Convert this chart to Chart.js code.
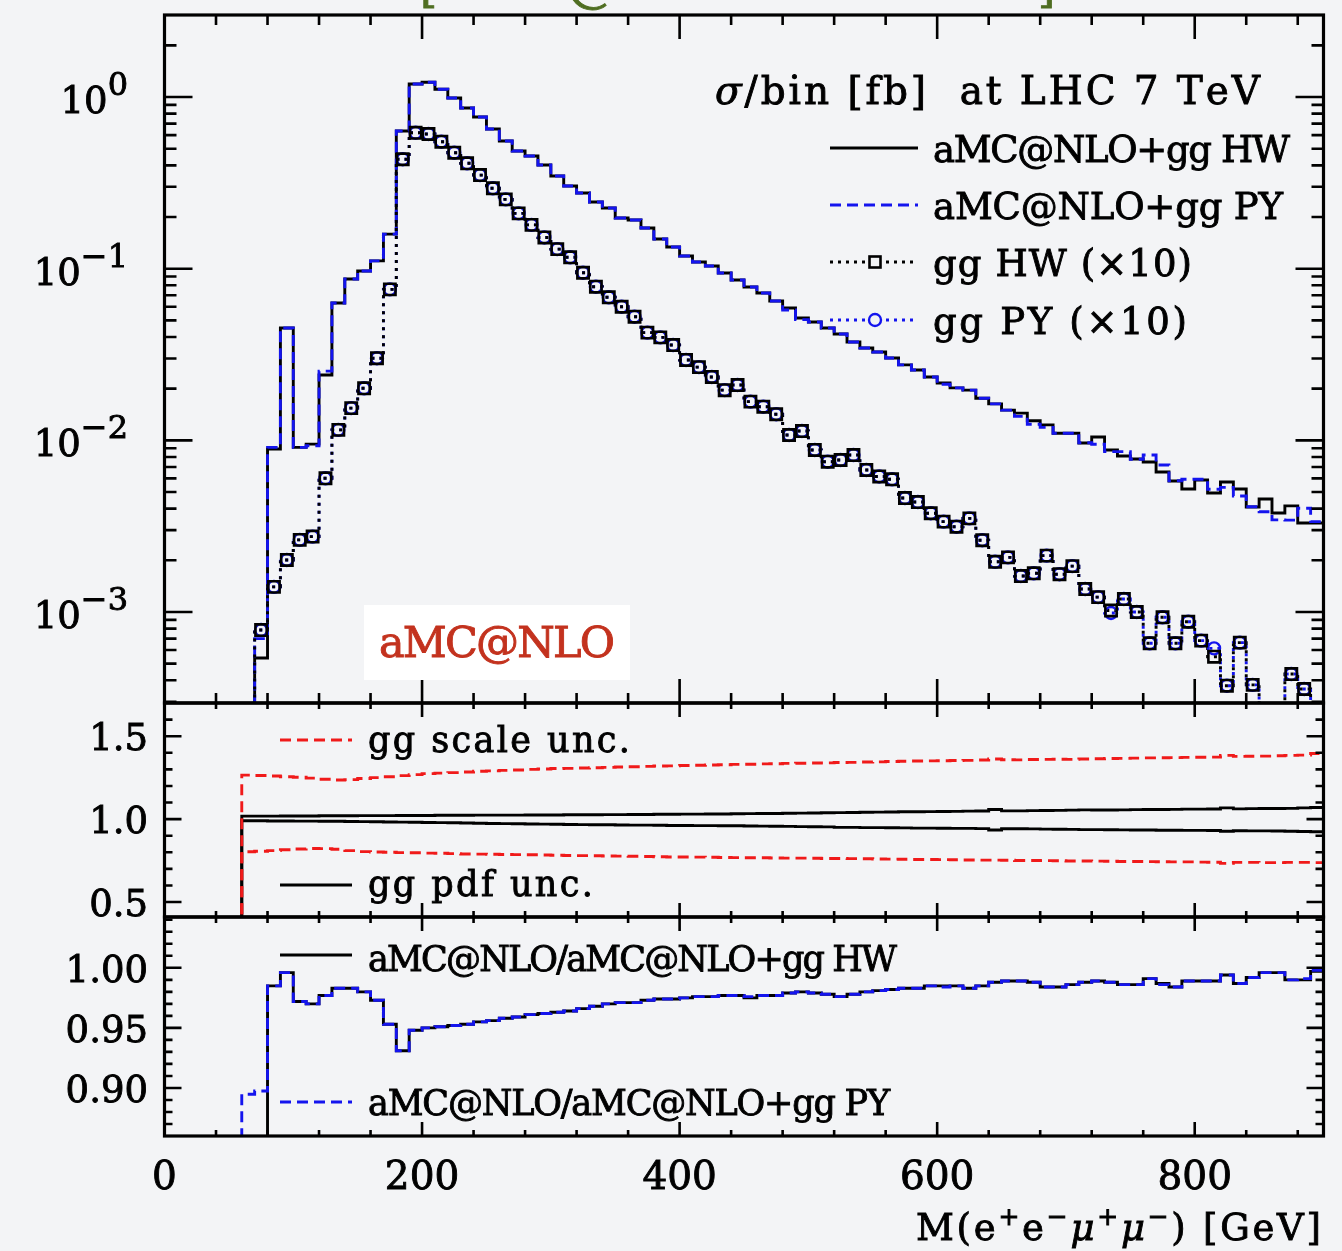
<!DOCTYPE html>
<html>
<head>
<meta charset="utf-8">
<script src="https://cdn.jsdelivr.net/npm/chart.js@4.4.1/dist/chart.umd.min.js"></script>
<style>
  html, body { margin: 0; padding: 0; background: #f3f4f6; }
  #wrap { position: relative; width: 1342px; height: 1251px; overflow: hidden; }
  canvas { position: absolute; left: 0; top: 0; }
</style>
</head>
<body>
<div id="wrap">
  <canvas id="topPanel" width="1342" height="1251"></canvas>
  <canvas id="midPanel" width="1342" height="1251"></canvas>
  <canvas id="botPanel" width="1342" height="1251"></canvas>
</div>
<script>
// --- bins: left edges in GeV (10 GeV wide), last edge closes the histogram ---
const binEdges = [
  50, 60, 70, 80, 90, 100, 110, 120, 130, 140,
  150, 160, 170, 180, 190, 200, 210, 220, 230, 240,
  250, 260, 270, 280, 290, 300, 310, 320, 330, 340,
  350, 360, 370, 380, 390, 400, 410, 420, 430, 440,
  450, 460, 470, 480, 490, 500, 510, 520, 530, 540,
  550, 560, 570, 580, 590, 600, 610, 620, 630, 640,
  650, 660, 670, 680, 690, 700, 710, 720, 730, 740,
  750, 760, 770, 780, 790, 800, 810, 820, 830, 840,
  850, 860, 870, 880, 890
];
const lastEdge = 900;
const binWidth = 10;

// sigma/bin [fb], aMC@NLO+gg with HERWIG
const sigmaHW = [
  1e-4, 1e-4, 5.4e-4, 8.9e-3, 0.0451, 9.1e-3, 9.5e-3, 0.0240, 0.0631, 0.0871,
  0.0969, 0.111, 0.159, 0.634, 1.19, 1.22, 1.11, 0.987, 0.863, 0.765,
  0.651, 0.554, 0.485, 0.453, 0.402, 0.347, 0.303, 0.276, 0.2445, 0.2256,
  0.1973, 0.1921, 0.1725, 0.1489, 0.1337, 0.1185, 0.1093, 0.1036, 0.0944, 0.0859,
  0.0782, 0.0722, 0.0648, 0.0590, 0.0516, 0.0489, 0.0451, 0.0416, 0.0374, 0.0345,
  0.0327, 0.0302, 0.0275, 0.0257, 0.0234, 0.0216, 0.0202, 0.0196, 0.0176, 0.0163,
  0.0150, 0.0144, 0.0130, 0.0123, 0.0110, 0.0110, 0.00965, 0.01046, 0.00879, 0.00811,
  0.00779, 0.00748, 0.00654, 0.00579, 0.00521, 0.00587, 0.00493, 0.00572, 0.00521, 0.00409,
  0.00455, 0.00377, 0.00415, 0.00330, 0.00330
];
// aMC@NLO+gg with PYTHIA
const sigmaPY = [
  1e-4, 1e-4, 7.0e-4, 9.1e-3, 0.0451, 9.1e-3, 9.3e-3, 0.0253, 0.0631, 0.0871,
  0.0969, 0.111, 0.159, 0.634, 1.19, 1.22, 1.11, 0.987, 0.863, 0.765,
  0.651, 0.554, 0.485, 0.453, 0.402, 0.347, 0.303, 0.276, 0.2445, 0.2256,
  0.1973, 0.1921, 0.1725, 0.1489, 0.1337, 0.1185, 0.1093, 0.1036, 0.0944, 0.0859,
  0.0782, 0.0722, 0.0648, 0.0575, 0.0505, 0.0489, 0.0451, 0.0416, 0.0374, 0.0345,
  0.0327, 0.0302, 0.0275, 0.0257, 0.0234, 0.0212, 0.0202, 0.0196, 0.0176, 0.0163,
  0.0150, 0.0138, 0.0124, 0.0119, 0.0110, 0.0110, 0.00969, 0.00948, 0.00859, 0.00859,
  0.00776, 0.00821, 0.00718, 0.00582, 0.00593, 0.00593, 0.00519, 0.00532, 0.00474, 0.00410,
  0.00384, 0.00344, 0.00343, 0.00402, 0.00336
];
// gg only (x10), HERWIG
const ggHW = [
  1e-4, 1e-4, 7.85e-4, 1.40e-3, 2.01e-3, 2.63e-3, 2.75e-3, 6.01e-3, 0.0115, 0.0154,
  0.0201, 0.0301, 0.0758, 0.434, 0.619, 0.609, 0.549, 0.474, 0.411, 0.351,
  0.294, 0.2535, 0.210, 0.180, 0.152, 0.130, 0.1165, 0.0947, 0.0785, 0.0681,
  0.0600, 0.0525, 0.0424, 0.0398, 0.0359, 0.0294, 0.0267, 0.0234, 0.0196, 0.0210,
  0.0168, 0.0157, 0.0142, 0.01074, 0.01133, 0.00879, 0.00751, 0.00768, 0.00821, 0.00672,
  0.00616, 0.00593, 0.00461, 0.00437, 0.00376, 0.00336, 0.00314, 0.00351, 0.00262, 0.00196,
  0.00208, 0.00162, 0.00168, 0.00213, 0.00166, 0.00185, 0.00136, 0.00122, 0.00102, 0.00119,
  0.00100, 6.57e-4, 9.31e-4, 6.57e-4, 8.78e-4, 6.81e-4, 5.49e-4, 3.72e-4, 6.63e-4, 3.76e-4,
  2.2e-4, 2.0e-4, 4.35e-4, 3.56e-4, 2.2e-4
];
// gg only (x10), PYTHIA
const ggPY = [
  1e-4, 1e-4, 7.85e-4, 1.40e-3, 2.01e-3, 2.63e-3, 2.75e-3, 6.01e-3, 0.0115, 0.0154,
  0.0201, 0.0301, 0.0758, 0.434, 0.619, 0.609, 0.549, 0.474, 0.411, 0.351,
  0.294, 0.2535, 0.210, 0.180, 0.152, 0.130, 0.1165, 0.0947, 0.0785, 0.0681,
  0.0600, 0.0525, 0.0424, 0.0398, 0.0359, 0.0294, 0.0267, 0.0234, 0.0196, 0.0210,
  0.0168, 0.0157, 0.0142, 0.01074, 0.01133, 0.00879, 0.00751, 0.00768, 0.00821, 0.00672,
  0.00616, 0.00593, 0.00461, 0.00437, 0.00376, 0.00336, 0.00314, 0.00351, 0.00262, 0.00196,
  0.00208, 0.00162, 0.00168, 0.00213, 0.00166, 0.00185, 0.00136, 0.00122, 9.87e-4, 0.00119,
  0.00100, 6.57e-4, 9.31e-4, 6.57e-4, 8.78e-4, 6.81e-4, 6.14e-4, 3.72e-4, 6.63e-4, 3.76e-4,
  2.2e-4, 2.0e-4, 4.35e-4, 3.56e-4, 2.2e-4
];

// middle panel: gg scale / pdf uncertainty bands (ratio)
const scaleUp = [
  0.3, 1.265, 1.263, 1.260, 1.255, 1.252, 1.247, 1.240, 1.236, 1.238,
  1.245, 1.250, 1.255, 1.262, 1.268, 1.274, 1.277, 1.280, 1.284, 1.289,
  1.291, 1.294, 1.296, 1.300, 1.302, 1.305, 1.306, 1.308, 1.310, 1.312,
  1.314, 1.316, 1.318, 1.320, 1.321, 1.323, 1.325, 1.326, 1.328, 1.330,
  1.331, 1.333, 1.334, 1.336, 1.337, 1.338, 1.339, 1.341, 1.342, 1.344,
  1.345, 1.347, 1.349, 1.350, 1.351, 1.352, 1.353, 1.354, 1.356, 1.362,
  1.358, 1.357, 1.359, 1.360, 1.361, 1.360, 1.362, 1.364, 1.365, 1.366,
  1.368, 1.369, 1.370, 1.371, 1.372, 1.373, 1.374, 1.384, 1.378, 1.379,
  1.380, 1.382, 1.384, 1.386, 1.396
];
const scaleDown = [
  0.3, 0.803, 0.806, 0.810, 0.815, 0.820, 0.823, 0.822, 0.818, 0.810,
  0.804, 0.802, 0.800, 0.798, 0.797, 0.795, 0.794, 0.792, 0.790, 0.789,
  0.788, 0.787, 0.786, 0.785, 0.784, 0.782, 0.781, 0.780, 0.779, 0.778,
  0.777, 0.776, 0.775, 0.773, 0.772, 0.772, 0.771, 0.770, 0.769, 0.768,
  0.767, 0.767, 0.766, 0.765, 0.765, 0.764, 0.763, 0.763, 0.762, 0.761,
  0.760, 0.759, 0.758, 0.757, 0.757, 0.756, 0.755, 0.754, 0.753, 0.753,
  0.752, 0.751, 0.751, 0.750, 0.749, 0.748, 0.748, 0.747, 0.746, 0.745,
  0.745, 0.744, 0.743, 0.742, 0.742, 0.741, 0.740, 0.733, 0.739, 0.739,
  0.738, 0.738, 0.739, 0.739, 0.738
];
const pdfUp = [
  0.3, 1.018, 1.018, 1.018, 1.019, 1.019, 1.019, 1.020, 1.020, 1.020,
  1.021, 1.021, 1.021, 1.022, 1.022, 1.022, 1.023, 1.023, 1.023, 1.024,
  1.024, 1.024, 1.024, 1.025, 1.025, 1.025, 1.026, 1.026, 1.026, 1.027,
  1.027, 1.028, 1.028, 1.029, 1.029, 1.030, 1.030, 1.031, 1.031, 1.032,
  1.033, 1.034, 1.034, 1.035, 1.036, 1.037, 1.038, 1.039, 1.040, 1.041,
  1.042, 1.043, 1.044, 1.044, 1.045, 1.046, 1.047, 1.048, 1.049, 1.058,
  1.050, 1.050, 1.051, 1.052, 1.053, 1.054, 1.056, 1.055, 1.055, 1.056,
  1.057, 1.058, 1.058, 1.059, 1.060, 1.060, 1.061, 1.068, 1.062, 1.063,
  1.064, 1.064, 1.065, 1.068, 1.070
];
const pdfDown = [
  0.3, 0.990, 0.990, 0.989, 0.989, 0.988, 0.988, 0.987, 0.987, 0.986,
  0.985, 0.984, 0.983, 0.982, 0.981, 0.980, 0.979, 0.978, 0.977, 0.975,
  0.974, 0.973, 0.972, 0.971, 0.970, 0.969, 0.968, 0.967, 0.966, 0.966,
  0.965, 0.964, 0.964, 0.963, 0.962, 0.962, 0.961, 0.961, 0.960, 0.960,
  0.959, 0.958, 0.957, 0.956, 0.955, 0.954, 0.953, 0.950, 0.950, 0.949,
  0.949, 0.948, 0.947, 0.946, 0.946, 0.945, 0.944, 0.944, 0.943, 0.934,
  0.942, 0.942, 0.941, 0.940, 0.939, 0.938, 0.937, 0.937, 0.936, 0.935,
  0.934, 0.934, 0.933, 0.933, 0.932, 0.932, 0.931, 0.927, 0.930, 0.929,
  0.929, 0.928, 0.927, 0.925, 0.924
];

// bottom panel: aMC@NLO / (aMC@NLO+gg)
const ratioHW = [
  0.5, 0.5, 0.5, 0.985, 0.996, 0.972, 0.970, 0.977, 0.983, 0.983,
  0.980, 0.973, 0.953, 0.931, 0.948, 0.950, 0.951, 0.952, 0.953, 0.955,
  0.956, 0.958, 0.959, 0.961, 0.962, 0.963, 0.964, 0.966, 0.968, 0.970,
  0.971, 0.971, 0.973, 0.974, 0.974, 0.975, 0.976, 0.976, 0.977, 0.977,
  0.975, 0.977, 0.977, 0.979, 0.980, 0.979, 0.978, 0.976, 0.978, 0.980,
  0.981, 0.982, 0.983, 0.983, 0.985, 0.985, 0.985, 0.983, 0.985, 0.988,
  0.989, 0.989, 0.988, 0.984, 0.984, 0.986, 0.988, 0.989, 0.988, 0.986,
  0.986, 0.991, 0.987, 0.984, 0.989, 0.989, 0.989, 0.994, 0.987, 0.992,
  0.996, 0.996, 0.990, 0.990, 0.997
];
const ratioPY = [
  0.5, 0.8947, 0.8975, 0.985, 0.996, 0.972, 0.970, 0.977, 0.983, 0.983,
  0.980, 0.973, 0.953, 0.931, 0.948, 0.950, 0.951, 0.952, 0.953, 0.955,
  0.956, 0.958, 0.959, 0.961, 0.962, 0.963, 0.964, 0.966, 0.968, 0.970,
  0.971, 0.971, 0.973, 0.974, 0.974, 0.975, 0.976, 0.976, 0.977, 0.977,
  0.976, 0.977, 0.977, 0.979, 0.980, 0.979, 0.978, 0.976, 0.978, 0.980,
  0.981, 0.982, 0.983, 0.983, 0.985, 0.984, 0.985, 0.983, 0.985, 0.988,
  0.989, 0.989, 0.988, 0.984, 0.984, 0.986, 0.988, 0.989, 0.988, 0.986,
  0.986, 0.991, 0.986, 0.984, 0.989, 0.989, 0.989, 0.994, 0.987, 0.992,
  0.996, 0.996, 0.990, 0.991, 0.998
];

// ticks
const xMajorTicks = [0, 200, 400, 600, 800];
const xTickLabels = ['0', '200', '400', '600', '800'];
const xMinorTicks = [40, 80, 120, 160, 240, 280, 320, 360, 440, 480, 520, 560, 640, 680, 720, 760, 840, 880];
const topMajorTicks = [1e-3, 1e-2, 1e-1, 1];
const topTickExponents = ['−3', '−2', '−1', '0'];
const midMajorTicks = [0.5, 1.0, 1.5];
const midTickLabels = ['0.5', '1.0', '1.5'];
const midMinorTicks = [0.6, 0.7, 0.8, 0.9, 1.1, 1.2, 1.3, 1.4, 1.6];
const botMajorTicks = [0.90, 0.95, 1.00];
const botTickLabels = ['0.90', '0.95', '1.00'];
const botMinorTicks = [0.87, 0.88, 0.89, 0.91, 0.92, 0.93, 0.94, 0.96, 0.97, 0.98, 0.99, 1.01, 1.02, 1.03, 1.04];

const topMinorTicks = [];
for (let e = -4; e <= 0; e++) {
  for (let m = 2; m <= 9; m++) {
    const v = m * Math.pow(10, e);
    if (v > 2.95e-4 && v < 3.0) topMinorTicks.push(v);
  }
}

const W = 1342, H = 1251;
const PLOT_LEFT = 164.5, PLOT_RIGHT = 1323.5;
const SERIF = '"DejaVu Serif", "Liberation Serif", serif';
const BLUE = '#1414ee', RED = '#f01a1a';
const BG = '#f3f4f6';
const LW = 2.9;

function stepPoints(values) {
  const pts = binEdges.map((e, i) => ({ x: e, y: values[i] }));
  pts.push({ x: lastEdge, y: values[values.length - 1] });
  return pts;
}
function centerPoints(values, from) {
  return binEdges.map((e, i) => ({ x: e + binWidth / 2, y: values[i] })).slice(from);
}

// text drawn glyph by glyph, optionally stretched to a given width; a thin stroke thickens it
function drawRich(ctx, parts, x, y, align, fitWidth, color) {
  ctx.fillStyle = color || '#000';
  ctx.strokeStyle = color || '#000';
  ctx.lineWidth = 0.9;
  ctx.setLineDash([]);
  ctx.textBaseline = 'alphabetic';
  ctx.textAlign = 'left';
  const glyphs = [];
  parts.forEach(p => {
    const font = (p.italic ? 'italic ' : '') + (p.bold ? 'bold ' : '') + p.size + 'px ' + (p.family || SERIF);
    ctx.font = font;
    for (const ch of p.t) glyphs.push({ ch, font, w: ctx.measureText(ch).width, rise: p.rise || 0 });
  });
  const natural = glyphs.reduce((s, g) => s + g.w, 0);
  const gap = fitWidth && glyphs.length > 1 ? (fitWidth - natural) / (glyphs.length - 1) : 0;
  const total = natural + gap * (glyphs.length - 1);
  let cx = align === 'right' ? x - total : align === 'center' ? x - total / 2 : x;
  glyphs.forEach(g => {
    ctx.font = g.font;
    ctx.fillText(g.ch, cx, y - g.rise);
    ctx.strokeText(g.ch, cx, y - g.rise);
    cx += g.w + gap;
  });
}

function legendLine(ctx, x1, x2, y, color, dash) {
  ctx.save();
  ctx.strokeStyle = color;
  ctx.lineWidth = LW;
  ctx.setLineDash(dash || []);
  ctx.beginPath();
  ctx.moveTo(x1, y);
  ctx.lineTo(x2, y);
  ctx.stroke();
  ctx.restore();
}

function framePlugin(panel) {
  return {
    id: 'frame_' + panel.name,
    afterDatasetsDraw(chart) {
      const ctx = chart.ctx, a = chart.chartArea, xs = chart.scales.x, ys = chart.scales.y;
      ctx.save();
      ctx.strokeStyle = '#000';
      ctx.lineWidth = 2.6;
      ctx.setLineDash([]);
      ctx.beginPath();
      const xt = xMajorTicks.map(v => [v, panel.xLen[0]]).concat(xMinorTicks.map(v => [v, panel.xLen[1]]));
      xt.forEach(([v, len]) => {
        const p = xs.getPixelForValue(v);
        ctx.moveTo(p, a.top); ctx.lineTo(p, a.top + len);
        ctx.moveTo(p, a.bottom); ctx.lineTo(p, a.bottom - len);
      });
      const yt = panel.yMajor.map(v => [v, panel.yLen[0]]).concat(panel.yMinor.map(v => [v, panel.yLen[1]]));
      yt.forEach(([v, len]) => {
        const p = ys.getPixelForValue(v);
        ctx.moveTo(a.left, p); ctx.lineTo(a.left + len, p);
        ctx.moveTo(a.right, p); ctx.lineTo(a.right - len, p);
      });
      ctx.stroke();
      ctx.lineWidth = 3.2;
      ctx.strokeRect(a.left, a.top, a.right - a.left, a.bottom - a.top);
      panel.over(ctx, chart);
      ctx.restore();
    }
  };
}

function baseOptions(top, bottom, yOpts) {
  return {
    responsive: false,
    animation: false,
    devicePixelRatio: 1,
    events: [],
    layout: { padding: { left: PLOT_LEFT, right: W - PLOT_RIGHT, top: top, bottom: H - bottom } },
    scales: {
      x: { type: 'linear', min: 0, max: 900, display: false },
      y: Object.assign({ display: false }, yOpts)
    },
    plugins: { legend: { display: false }, tooltip: { enabled: false } },
    elements: { point: { radius: 0, hoverRadius: 0 }, line: { tension: 0 } }
  };
}

function histo(label, values, color, dash) {
  return { label, data: stepPoints(values), stepped: 'before', borderColor: color,
           borderWidth: LW, borderDash: dash || [], pointRadius: 0, fill: false };
}

// ---------- top panel ----------
new Chart(document.getElementById('topPanel'), {
  type: 'line',
  data: {
    datasets: [
      { label: 'gg HW (x10) markers', data: centerPoints(ggHW, 2), showLine: false, pointStyle: 'rect',
        pointRadius: 8, pointBorderWidth: 2.6, pointBorderColor: '#000', pointBackgroundColor: 'rgba(0,0,0,0)' },
      { label: 'gg PY (x10) markers', data: centerPoints(ggPY, 2), showLine: false, pointStyle: 'circle',
        pointRadius: 6, pointBorderWidth: 2.4, pointBorderColor: BLUE, pointBackgroundColor: 'rgba(0,0,0,0)' },
      histo('gg HW (x10)', ggHW, '#000', [3, 5]),
      histo('gg PY (x10)', ggPY, BLUE, [3, 5]),
      histo('aMC@NLO+gg PY', sigmaPY, BLUE, [11, 6]),
      histo('aMC@NLO+gg HW', sigmaHW, '#000')
    ]
  },
  options: baseOptions(15, 703, { type: 'logarithmic', min: 2.95e-4, max: 3.005 }),
  plugins: [framePlugin({
    name: 'top', xLen: [24, 10], yLen: [28, 12], yMajor: topMajorTicks, yMinor: topMinorTicks,
    over(ctx, chart) {
      const ys = chart.scales.y;
      topMajorTicks.forEach((v, i) => {
        const py = ys.getPixelForValue(v);
        drawRich(ctx, [{ t: '10', size: 37 }, { t: topTickExponents[i], size: 32, rise: 18 }], 128, py + 16, 'right');
      });
      // cropped title above the frame
      drawRich(ctx, [{ t: '[', size: 44 }], 420, 2, 'left', 0, '#4f6e22');
      drawRich(ctx, [{ t: '@', size: 52 }], 566, 1, 'left', 0, '#4f6e22');
      drawRich(ctx, [{ t: ']', size: 44 }], 1038, 2, 'left', 0, '#4f6e22');
      // header and legend
      drawRich(ctx, [{ t: 'σ', size: 39, italic: true }, { t: '/bin [fb]  at LHC 7 TeV', size: 39 }], 715, 104, 'left', 545);
      legendLine(ctx, 830, 918, 148, '#000');
      drawRich(ctx, [{ t: 'aMC@NLO+gg HW', size: 37 }], 933, 162, 'left', 357);
      legendLine(ctx, 830, 918, 205, BLUE, [11, 6]);
      drawRich(ctx, [{ t: 'aMC@NLO+gg PY', size: 37 }], 933, 219, 'left', 350);
      legendLine(ctx, 830, 918, 262, '#000', [3, 5]);
      ctx.lineWidth = 2.6; ctx.strokeStyle = '#000'; ctx.fillStyle = BG; ctx.setLineDash([]);
      ctx.fillRect(869.5, 256.5, 11, 11); ctx.strokeRect(869.5, 256.5, 11, 11);
      drawRich(ctx, [{ t: 'gg HW (×10)', size: 37 }], 933, 276, 'left', 259);
      legendLine(ctx, 830, 918, 320, BLUE, [3, 5]);
      ctx.lineWidth = 2.4; ctx.strokeStyle = BLUE; ctx.fillStyle = BG; ctx.setLineDash([]);
      ctx.beginPath(); ctx.arc(875, 320, 6, 0, Math.PI * 2); ctx.fill(); ctx.stroke();
      drawRich(ctx, [{ t: 'gg PY (×10)', size: 37 }], 933, 334, 'left', 254);
      // aMC@NLO stamp
      ctx.fillStyle = '#ffffff';
      ctx.fillRect(364, 605, 266, 75);
      drawRich(ctx, [{ t: 'aMC@NLO', size: 43 }], 379, 657, 'left', 236, '#c3321e');
    }
  })]
});

// ---------- middle panel ----------
new Chart(document.getElementById('midPanel'), {
  type: 'line',
  data: {
    datasets: [
      histo('gg scale unc. up', scaleUp, RED, [11, 6]),
      histo('gg scale unc. down', scaleDown, RED, [11, 6]),
      histo('gg pdf unc. up', pdfUp, '#000'),
      histo('gg pdf unc. down', pdfDown, '#000')
    ]
  },
  options: baseOptions(703, 917, { type: 'linear', min: 0.41, max: 1.70 }),
  plugins: [framePlugin({
    name: 'mid', xLen: [14, 6], yLen: [17, 8], yMajor: midMajorTicks, yMinor: midMinorTicks,
    over(ctx, chart) {
      const ys = chart.scales.y;
      midMajorTicks.forEach((v, i) => drawRich(ctx, [{ t: midTickLabels[i], size: 37 }], 148, ys.getPixelForValue(v) + 14, 'right'));
      legendLine(ctx, 280, 352, 740, RED, [11, 6]);
      drawRich(ctx, [{ t: 'gg scale unc.', size: 35 }], 368, 752, 'left', 262);
      legendLine(ctx, 280, 352, 885, '#000');
      drawRich(ctx, [{ t: 'gg pdf unc.', size: 35 }], 368, 896, 'left', 225);
    }
  })]
});

// ---------- bottom panel ----------
new Chart(document.getElementById('botPanel'), {
  type: 'line',
  data: {
    datasets: [
      histo('aMC@NLO/aMC@NLO+gg PY', ratioPY, BLUE, [11, 6]),
      histo('aMC@NLO/aMC@NLO+gg HW', ratioHW, '#000')
    ]
  },
  options: baseOptions(917, 1136, { type: 'linear', min: 0.86, max: 1.0423 }),
  plugins: [framePlugin({
    name: 'bot', xLen: [14, 6], yLen: [17, 8], yMajor: botMajorTicks, yMinor: botMinorTicks,
    over(ctx, chart) {
      const xs = chart.scales.x, ys = chart.scales.y;
      botMajorTicks.forEach((v, i) => drawRich(ctx, [{ t: botTickLabels[i], size: 37 }], 148, ys.getPixelForValue(v) + 14, 'right'));
      xMajorTicks.forEach((v, i) => drawRich(ctx, [{ t: xTickLabels[i], size: 39 }], xs.getPixelForValue(v), 1189, 'center'));
      legendLine(ctx, 280, 352, 955, '#000');
      drawRich(ctx, [{ t: 'aMC@NLO/aMC@NLO+gg HW', size: 35 }], 368, 971, 'left', 529);
      legendLine(ctx, 280, 352, 1102, BLUE, [11, 6]);
      drawRich(ctx, [{ t: 'aMC@NLO/aMC@NLO+gg PY', size: 35 }], 368, 1115, 'left', 522);
      const sup = 25, rise = 15;
      drawRich(ctx, [
        { t: 'M(e', size: 37 }, { t: '+', size: sup, rise }, { t: 'e', size: 37 }, { t: '−', size: sup, rise },
        { t: 'μ', size: 37, italic: true }, { t: '+', size: sup, rise }, { t: 'μ', size: 37, italic: true },
        { t: '−', size: sup, rise }, { t: ') [GeV]', size: 37 }
      ], 1321, 1240, 'right', 405);
    }
  })]
});
</script>
</body>
</html>
